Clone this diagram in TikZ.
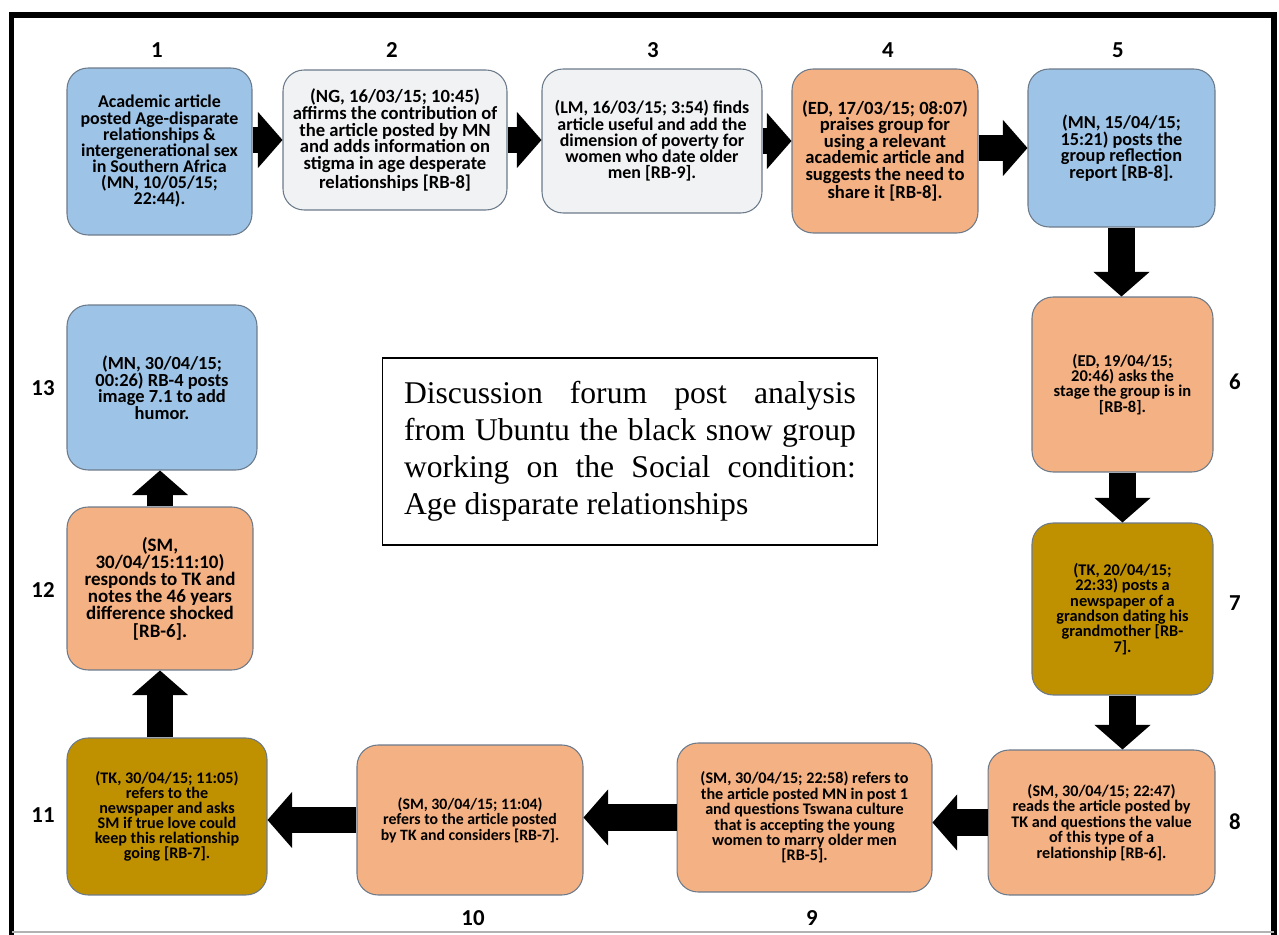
\documentclass[tikz,border=0pt]{standalone}
\usepackage{fontspec}
\setmainfont{Liberation Serif}
\newfontfamily\postfont{Carlito}
\usetikzlibrary{arrows.meta}

\definecolor{mnblue}{HTML}{9DC3E6}
\definecolor{palegrey}{HTML}{F1F2F4}
\definecolor{peach}{HTML}{F4B183}
\definecolor{gold}{HTML}{BF9000}
\definecolor{postedge}{HTML}{6B7A8A}

\newcommand{\psize}[2]{\postfont\bfseries\fontsize{#1}{#2}\selectfont}

\tikzset{
  post/.style={draw=postedge, line width=0.6pt, rounded corners=0.42cm, align=center, inner sep=2pt},
  bluebox/.style={post, fill=mnblue},
  greybox/.style={post, fill=palegrey},
  peachbox/.style={post, fill=peach},
  goldbox/.style={post, fill=gold},
  num/.style={font=\postfont\bfseries\fontsize{13}{15}\selectfont},
  flow/.style={line width=15pt, -{Triangle[width=32pt,length=14pt,line width=0pt]}}
}

\begin{document}
\begin{tikzpicture}[x=0.02cm, y=-0.02cm]
  \useasboundingbox (0,0) rectangle (1279,935);

  % frame
  \draw[line width=3.4pt] (11.5,935) -- (11.5,15) -- (1274,15) -- (1274,935);
  \draw[gray!60, line width=0.8pt] (11.5,932) -- (1274,932);

  % top row
  \node[bluebox, minimum width=3.70cm, minimum height=3.34cm, font=\psize{10.2}{9.2}] (b1) at (159.5,151.5)
    {Academic article\\ posted Age-disparate\\ relationships \&\\ intergenerational sex\\ in Southern Africa\\ (MN, 10/05/15;\\ 22:44).};
  \node[greybox, minimum width=4.48cm, minimum height=2.80cm, font=\psize{10.6}{9.5}] (b2) at (395,140)
    {(NG, 16/03/15; 10:45)\\ affirms the contribution of\\ the article posted by MN\\ and adds information on\\ stigma in age desperate\\ relationships [RB-8]};
  \node[greybox, minimum width=4.40cm, minimum height=2.88cm, font=\psize{10.2}{9.2}] (b3) at (652,141)
    {(LM, 16/03/15; 3:54) finds\\ article useful and add the\\ dimension of poverty for\\ women who date older\\ men [RB-9].};
  \node[peachbox, minimum width=3.72cm, minimum height=3.28cm, font=\psize{10.6}{9.4}] (b4) at (885,151)
    {(ED, 17/03/15; 08:07)\\ praises group for\\ using a relevant\\ academic article and\\ suggests the need to\\ share it [RB-8].};
  \node[bluebox, minimum width=3.74cm, minimum height=3.16cm, font=\psize{10.4}{9.4}] (b5) at (1121.5,148)
    {(MN, 15/04/15;\\ 15:21) posts the\\ group reflection\\ report [RB-8].};

  % right column
  \node[peachbox, minimum width=3.62cm, minimum height=3.50cm, font=\psize{9.4}{8.6}] (b6) at (1122.5,384.5)
    {(ED, 19/04/15;\\ 20:46) asks the\\ stage the group is in\\ {[RB-8].}};
  \node[goldbox, minimum width=3.62cm, minimum height=3.44cm, font=\psize{9.3}{8.7}] (b7) at (1122.5,609)
    {(TK, 20/04/15;\\ 22:33) posts a\\ newspaper of a\\ grandson dating his\\ grandmother [RB-\\ 7].};

  % bottom row
  \node[peachbox, minimum width=4.54cm, minimum height=2.90cm, font=\psize{9.2}{8.8}] (b8) at (1101.5,822.5)
    {(SM, 30/04/15; 22:47)\\ reads the article posted by\\ TK and questions the value\\ of this type of a\\ relationship [RB-6].};
  \node[peachbox, minimum width=5.10cm, minimum height=2.98cm, font=\psize{9.2}{8.8}] (b9) at (804.5,817.5)
    {(SM, 30/04/15; 22:58) refers to\\ the article posted MN in post 1\\ and questions Tswana culture\\ that is accepting the young\\ women to marry older men\\ {[RB-5].}};
  \node[peachbox, minimum width=4.52cm, minimum height=3.00cm, font=\psize{9}{8.8}] (b10) at (470,820)
    {(SM, 30/04/15; 11:04)\\ refers to the article posted\\ by TK and considers [RB-7].};
  \node[goldbox, minimum width=4.00cm, minimum height=3.14cm, font=\psize{9.2}{8.5}] (b11) at (167,816.5)
    {(TK, 30/04/15; 11:05)\\ refers to the\\ newspaper and asks\\ SM if true love could\\ keep this relationship\\ going [RB-7].};

  % left column
  \node[peachbox, minimum width=3.72cm, minimum height=3.26cm, font=\psize{10.8}{9.8}] (b12) at (160,588.5)
    {(SM,\\ 30/04/15:11:10)\\ responds to TK and\\ notes the 46 years\\ difference shocked\\ {[RB-6].}};
  \node[bluebox, minimum width=3.80cm, minimum height=3.30cm, font=\psize{10.5}{9.4}] (b13) at (162,387.5)
    {(MN, 30/04/15;\\ 00:26) RB-4 posts\\ image 7.1 to add\\ humor.};

  % title box
  \node[draw, line width=0.6pt, minimum width=9.92cm, minimum height=3.74cm, text width=9.04cm,
        align=justify, font=\fontsize{18}{21}\selectfont] (title) at (630,451.5)
    {Discussion forum post analysis\linebreak from Ubuntu the black snow group\linebreak working on the Social condition:\linebreak Age disparate relationships};

  % step numbers
  \node[num] (n1) at (157,50) {1};
  \node[num] (n2) at (392,50) {2};
  \node[num] (n3) at (653,50) {3};
  \node[num] (n4) at (888,50) {4};
  \node[num] (n5) at (1118,50) {5};
  \node[num] (n6) at (1235,382) {6};
  \node[num] (n7) at (1235,603) {7};
  \node[num] (n8) at (1235,822) {8};
  \node[num] (n9) at (812,918) {9};
  \node[num] (n10) at (473,918) {10};
  \node[num] (n11) at (43,815) {11};
  \node[num] (n12) at (43,590) {12};
  \node[num] (n13) at (43,388) {13};

  % arrows
  \draw[flow] (b1.east |- b2.west) -- (b2.west);
  \draw[flow] (b2.east) -- (b2.east -| b3.west);
  \draw[flow] (b3.east) -- (b3.east -| b4.west);
  \draw[flow] (b4.east |- b5.west) -- (b5.west);
  \draw[flow] (b5.south) -- (b5.south |- b6.north);
  \draw[flow] (b6.south) -- (b7.north);
  \draw[flow] (b7.south) -- (b7.south |- b8.north);
  \draw[flow] (b8.west) -- (b8.west -| b9.east);
  \draw[flow] (b9.west) -- (b9.west -| b10.east);
  \draw[flow] (b10.west) -- (b10.west -| b11.east);
  \draw[flow] (b11.north -| b12.south) -- (b12.south);
  \draw[flow] (b12.north) -- (b12.north |- b13.south);
\end{tikzpicture}
\end{document}
